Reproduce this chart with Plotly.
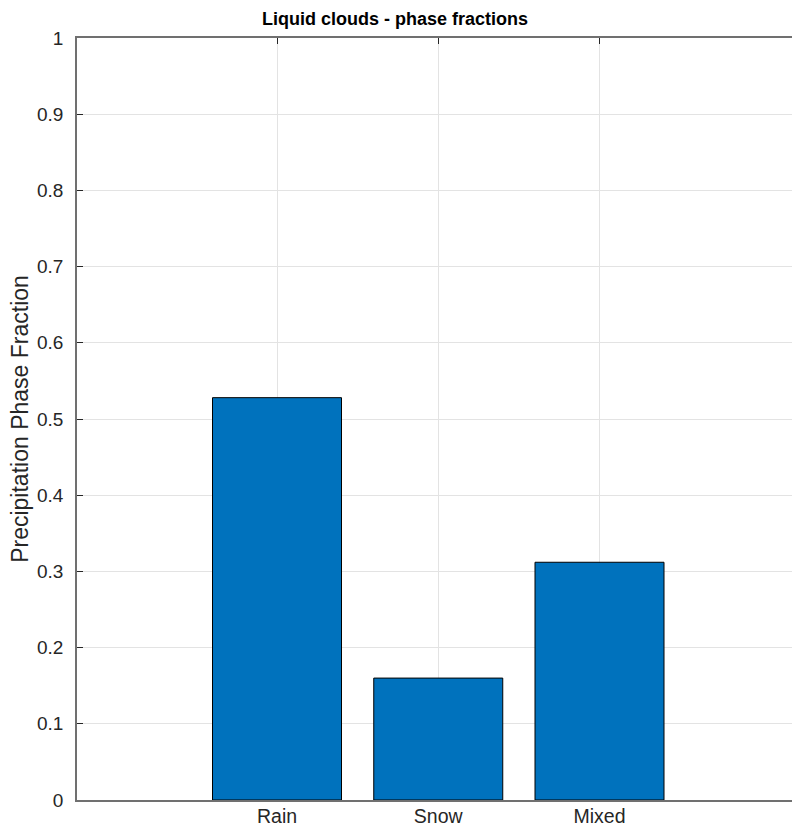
import plotly.graph_objects as go

# Fraction of each precipitation phase for liquid clouds
categories = ["Rain", "Snow", "Mixed"]
positions = [1, 2, 3]
fractions = [0.528, 0.160, 0.312]
y_ticks = [0, 0.1, 0.2, 0.3, 0.4, 0.5, 0.6, 0.7, 0.8, 0.9, 1]
y_tick_text = ["0", "0.1", "0.2", "0.3", "0.4", "0.5", "0.6", "0.7", "0.8", "0.9", "1"]

FONT = "Liberation Sans, Arial, Helvetica, sans-serif"
AXIS = "#262626"
GRID = "#e3e3e3"

fig = go.Figure(
    go.Bar(
        x=positions,
        y=fractions,
        width=0.8,
        marker=dict(color="#0072BD", line=dict(color="#000000", width=1)),
        hoverinfo="skip",
    )
)

fig.update_layout(
    width=792,
    height=830,
    margin=dict(l=77, r=0, t=38, b=30),
    paper_bgcolor="white",
    plot_bgcolor="white",
    showlegend=False,
    font=dict(family=FONT, size=19, color=AXIS),
    title=dict(
        text="<b>Liquid clouds - phase fractions</b>",
        font=dict(family=FONT, size=18, color="#000000"),
        x=395 / 792,
        xref="container",
        xanchor="center",
        y=1 - 19 / 830,
        yref="container",
        yanchor="middle",
    ),
)

fig.update_xaxes(
    range=[1 - 200 / 161.25, 1 + 515 / 161.25],
    tickmode="array",
    tickvals=positions,
    ticktext=categories,
    showgrid=True,
    gridcolor=GRID,
    gridwidth=1,
    showline=True,
    linecolor="#707070",
    linewidth=1.5,
    mirror="ticks",
    ticks="inside",
    ticklen=6,
    tickcolor=AXIS,
    tickfont=dict(size=19.5, color=AXIS),
    ticklabelstandoff=-2,
    layer="below traces",
    zeroline=False,
    fixedrange=True,
)

fig.update_yaxes(
    range=[0, 1],
    tickmode="array",
    tickvals=y_ticks,
    ticktext=y_tick_text,
    showgrid=True,
    gridcolor=GRID,
    gridwidth=1,
    showline=True,
    linecolor="#707070",
    linewidth=1.5,
    mirror=False,
    ticks="inside",
    ticklen=6,
    tickcolor=AXIS,
    tickfont=dict(size=19, color=AXIS),
    ticklabelstandoff=8,
    title=dict(text="Precipitation Phase Fraction", font=dict(size=23, color=AXIS), standoff=2),
    layer="below traces",
    zeroline=False,
    fixedrange=True,
)

fig.write_html("out.html", config={"displayModeBar": False})
